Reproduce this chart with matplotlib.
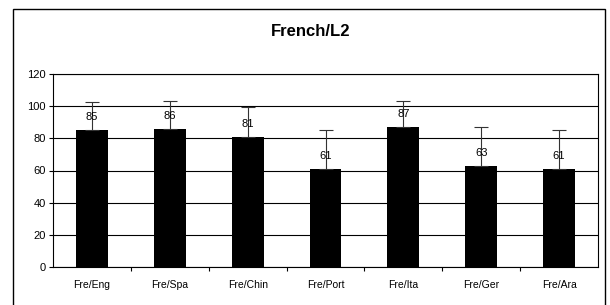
import matplotlib
matplotlib.use("Agg")
import matplotlib.pyplot as plt
from matplotlib.patches import Rectangle
import numpy as np

categories = ["Fre/Eng", "Fre/Spa", "Fre/Chin", "Fre/Port", "Fre/Ita", "Fre/Ger", "Fre/Ara"]
means = [85, 86, 81, 61, 87, 63, 61]
errors = [17.5, 17, 18.5, 24, 16, 24, 24]
y_ticks = [0, 20, 40, 60, 80, 100, 120]

plt.rcParams["font.family"] = ["Liberation Sans", "DejaVu Sans"]

W, H = 610, 305
fig = plt.figure(figsize=(W / 100, H / 100), dpi=100)

# outer chart frame (bottom edge falls below the image)
fig.patches.append(Rectangle((13 / W, -0.05), (605 - 13) / W, 1.05 - 9 / H,
                             transform=fig.transFigure, fill=False,
                             edgecolor="black", linewidth=1.0))

left, right, top, bottom = 53, 598, 74, 267
ax = fig.add_axes([left / W, 1 - bottom / H, (right - left) / W, (bottom - top) / H])

x = np.arange(len(categories))
ax.bar(x, means, width=0.41, color="black", zorder=3)
ax.errorbar(x, means, yerr=[np.zeros(len(errors)), errors], fmt="none",
            ecolor="#333333", elinewidth=0.8, capsize=5, capthick=0.8, zorder=4)
for xi, m in zip(x, means):
    ax.text(xi, m + 8, str(m), ha="center", va="center", fontsize=8, zorder=5)

ax.set_xlim(-0.5, len(categories) - 0.5)
ax.set_ylim(0, 120)
ax.set_yticks(y_ticks)
ax.yaxis.grid(True, color="black", linewidth=0.8, zorder=0)
ax.tick_params(axis="y", labelsize=8, length=3, width=0.8, direction="out", pad=2)
ax.set_xticks(x)
ax.set_xticklabels(categories)
ax.tick_params(axis="x", which="major", length=0, labelsize=7.5, pad=9)
ax.set_xticks(np.arange(0.5, len(categories) - 1, 1), minor=True)
ax.tick_params(axis="x", which="minor", length=3, width=0.8, direction="out")
for s in ax.spines.values():
    s.set_linewidth(0.8)
    s.set_color("black")

fig.text(311 / W, 1 - 32 / H, "French/L2", ha="center", va="center",
         fontsize=12, fontweight="bold")

fig.savefig("out.png", dpi=100)
